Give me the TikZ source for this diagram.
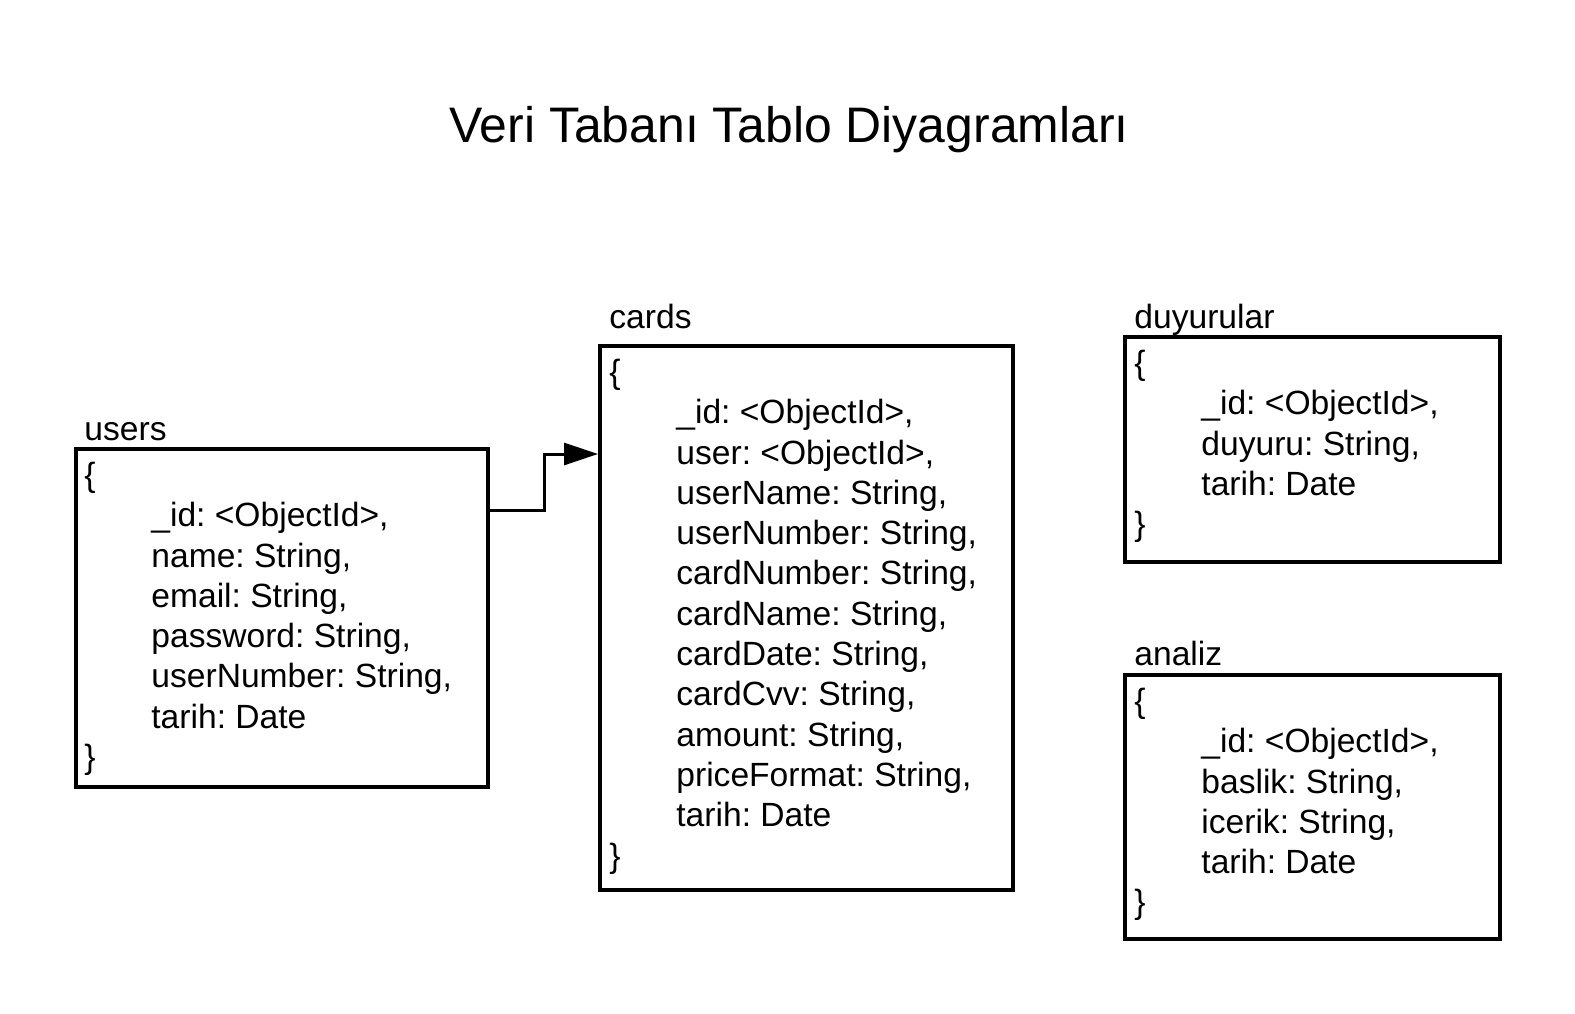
\documentclass[tikz,border=0pt]{standalone}
\usepackage{fontspec}
\setmainfont{Liberation Sans}
\usetikzlibrary{calc,arrows.meta}
\newcommand{\fld}{\hspace*{33.5pt}}

\begin{document}
\frenchspacing
\begin{tikzpicture}[x=0.5pt, y=-0.5pt,
		tbl/.style={draw, line width=2pt, inner sep=0pt, anchor=north west},
		tlabel/.style={anchor=base west, inner sep=0pt, font=\fontsize{16.8}{20}\selectfont},
		fields/.style={anchor=north west, inner sep=0pt, align=left, font=\fontsize{16.8}{20.15}\selectfont},
		link/.style={line width=1.5pt, -{Triangle[length=17pt, width=11pt]}}]
		%%%%% START %%%%%
		
		\useasboundingbox (0, 0) rectangle (1575, 1013);
		
		\node[anchor=base, inner sep=0pt, font=\fontsize{24.95}{29}\selectfont] (title) at (789, 142) {Veri Tabanı Tablo Diyagramları};
		
		\node[tbl, minimum width=206pt, minimum height=169pt] (users) at (74, 447) {};
		\node[tlabel] (usersT) at (84, 440) {users};
		\node[fields] (usersF) at (84, 456) {\rule{0pt}{15pt}\{\\
			\fld\_id: <ObjectId>,\\
			\fld name: String,\\
			\fld email: String,\\
			\fld password: String,\\
			\fld userNumber: String,\\
			\fld tarih: Date\\
			\}};
		
		\node[tbl, minimum width=206.5pt, minimum height=272pt] (cards) at (598, 344) {};
		\node[tlabel] (cardsT) at (609, 328) {cards};
		\node[fields] (cardsF) at (609, 353) {\rule{0pt}{15pt}\{\\
			\fld\_id: <ObjectId>,\\
			\fld user: <ObjectId>,\\
			\fld userName: String,\\
			\fld userNumber: String,\\
			\fld cardNumber: String,\\
			\fld cardName: String,\\
			\fld cardDate: String,\\
			\fld cardCvv: String,\\
			\fld amount: String,\\
			\fld priceFormat: String,\\
			\fld tarih: Date\\
			\}};
		
		\node[tbl, minimum width=187.5pt, minimum height=112.5pt] (duyurular) at (1123, 335) {};
		\node[tlabel] (duyurularT) at (1134, 328) {duyurular};
		\node[fields] (duyurularF) at (1134, 344) {\rule{0pt}{15pt}\{\\
			\fld\_id: <ObjectId>,\\
			\fld duyuru: String,\\
			\fld tarih: Date\\
			\}};
		
		\node[tbl, minimum width=187.5pt, minimum height=132pt] (analiz) at (1123, 673) {};
		\node[tlabel] (analizT) at (1134, 665) {analiz};
		\node[fields] (analizF) at (1134, 682) {\rule{0pt}{15pt}\{\\
			\fld\_id: <ObjectId>,\\
			\fld baslik: String,\\
			\fld icerik: String,\\
			\fld tarih: Date\\
			\}};
		
		\draw[link] ($(users.north east)+(0, 63)$) -- ++(54, 0) |- ($(cards.north west)+(0, 110)$);
		
		%%%%% END %%%%%
\end{tikzpicture}
\end{document}
